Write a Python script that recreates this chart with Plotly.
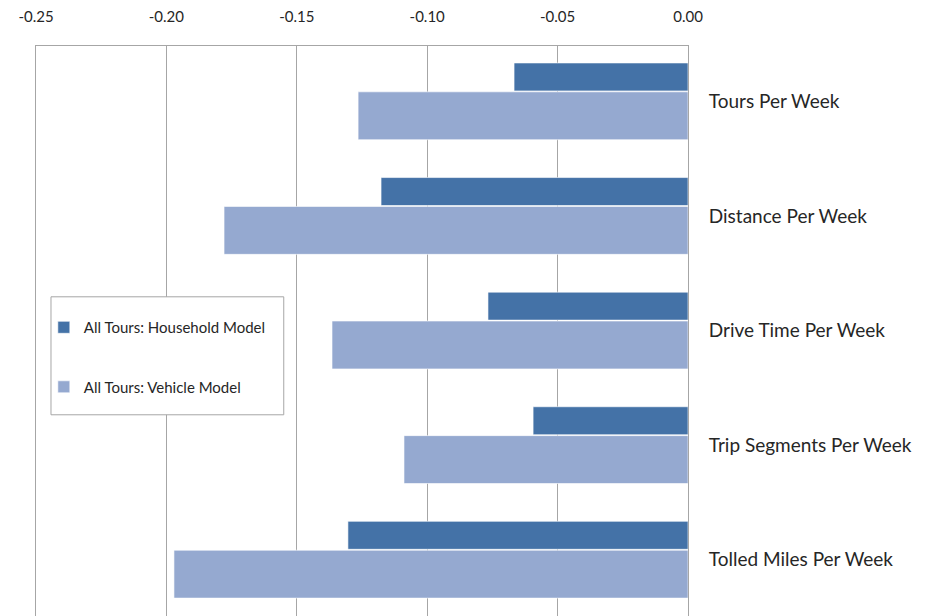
import plotly.graph_objects as go

# Travel-behaviour measures, listed top to bottom
categories = [
    "Tours Per Week",
    "Distance Per Week",
    "Drive Time Per Week",
    "Trip Segments Per Week",
    "Tolled Miles Per Week",
]
household_model = [-0.0667, -0.1177, -0.0767, -0.0594, -0.1304]
vehicle_model = [-0.1265, -0.1779, -0.1365, -0.1089, -0.1971]
x_ticks = [-0.25, -0.20, -0.15, -0.10, -0.05, 0.00]

# numeric slots so the first category sits at the top
positions = list(range(len(categories) - 1, -1, -1))

DARK = "#4472A7"
LIGHT = "#95A9D0"
GRID = "#A6A6A6"
TEXT = "#262626"
FONT = "Lato, Open Sans, sans-serif"

fig = go.Figure()
fig.add_trace(go.Bar(
    y=positions, x=household_model, orientation="h",
    name="All Tours: Household Model", legendgroup="hh",
    width=0.244, offset=0.091,
    marker=dict(color=DARK, line=dict(color="rgba(255,255,255,0.6)", width=1)),
))
fig.add_trace(go.Bar(
    y=positions, x=vehicle_model, orientation="h",
    name="All Tours: Vehicle Model", legendgroup="veh",
    width=0.418, offset=-0.335,
    marker=dict(color=LIGHT, line=dict(color="rgba(255,255,255,0.6)", width=1)),
))

# framed white panel behind the legend entries (hides the gridline)
fig.add_shape(
    type="rect", xref="paper", yref="paper",
    x0=0.023, x1=0.380, y0=0.353, y1=0.560,
    line=dict(color="#A6A6A6", width=1), fillcolor="white",
    layer="above",
)

fig.update_layout(
    width=935, height=616,
    margin=dict(l=36, r=247, t=46, b=0),
    paper_bgcolor="white", plot_bgcolor="white",
    barmode="overlay",
    font=dict(family=FONT, color=TEXT),
    legend=dict(
        x=0.012, y=0.535, xanchor="left", yanchor="top",
        borderwidth=0, bgcolor="rgba(0,0,0,0)",
        font=dict(size=15, family=FONT, color=TEXT),
        tracegroupgap=37, traceorder="grouped",
        itemwidth=30,
    ),
    xaxis=dict(
        range=[-0.25, 0.0], side="top",
        tickvals=x_ticks, ticktext=[f"{v:.2f}" for v in x_ticks],
        tickfont=dict(size=15),
        showgrid=True, gridcolor=GRID, gridwidth=1,
        zeroline=False,
        showline=True, linecolor=GRID, linewidth=1,
        ticks="", ticklabelstandoff=17,
        fixedrange=True,
    ),
    yaxis=dict(
        range=[-0.491, 4.483], side="right",
        tickvals=positions, ticktext=categories,
        tickfont=dict(size=19),
        showgrid=False, zeroline=False,
        showline=True, mirror=True, linecolor=GRID, linewidth=1,
        ticks="", ticklabelstandoff=16,
        fixedrange=True,
    ),
)

fig.write_html("out.html")
